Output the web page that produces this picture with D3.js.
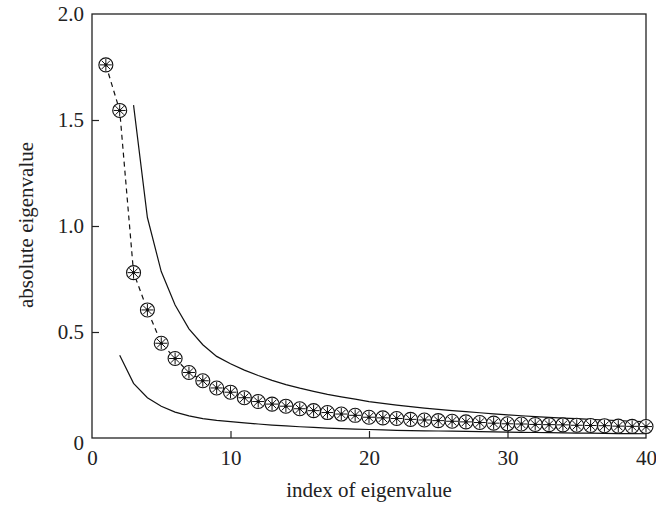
<!DOCTYPE html>
<html>
<head>
<meta charset="utf-8">
<script src="https://cdn.jsdelivr.net/npm/d3@7"></script>
<style>
  body { margin: 0; background: #fff; }
  text { font-family: "Liberation Serif", "DejaVu Serif", serif; fill: #222; }
</style>
</head>
<body>
<div id="wrapper"></div>
<script>
// ---------- DATA -----------------------------------------------
// eigenvalue markers, index 1..40
const eigIndex = d3.range(1, 41);
const eigValues = [
  1.76, 1.545, 0.78, 0.604, 0.447, 0.375, 0.309, 0.27, 0.236, 0.216,
  0.19, 0.172, 0.16, 0.15, 0.138, 0.129, 0.12, 0.113, 0.107, 0.098,
  0.095, 0.092, 0.088, 0.085, 0.082, 0.079, 0.076, 0.073, 0.070, 0.067,
  0.066, 0.064, 0.063, 0.062, 0.060, 0.059, 0.058, 0.056, 0.055, 0.054
];
// upper bound curve, index 3..40
const upperIndex = d3.range(3, 41);
const upperValues = [
  1.57, 1.04, 0.785, 0.627, 0.515, 0.44, 0.385, 0.35, 0.32, 0.295,
  0.272, 0.252, 0.235, 0.22, 0.206, 0.194, 0.183, 0.172, 0.163, 0.155,
  0.148, 0.141, 0.135, 0.129, 0.124, 0.119, 0.114, 0.109, 0.105, 0.101,
  0.097, 0.094, 0.091, 0.088, 0.085, 0.082, 0.079, 0.077
];
// lower bound curve, index 2..40
const lowerIndex = d3.range(2, 41);
const lowerValues = [
  0.39, 0.258, 0.19, 0.15, 0.122, 0.104, 0.091, 0.083, 0.077, 0.071,
  0.066, 0.061, 0.057, 0.053, 0.05, 0.047, 0.044, 0.042, 0.04, 0.038,
  0.036, 0.035, 0.034, 0.033, 0.032, 0.031, 0.03, 0.029, 0.028, 0.027,
  0.026, 0.025, 0.024, 0.023, 0.023, 0.022, 0.021, 0.021, 0.02
];
const xTicks = [0, 10, 20, 30, 40];
const yTicks = [0, 0.5, 1.0, 1.5, 2.0];
const yTickLabels = ["0", "0.5", "1.0", "1.5", "2.0"];

// ---------- DIMENSIONS -----------------------------------------
const dimensions = {
  width: 656,
  height: 506,
  margin: { top: 14, right: 10, bottom: 68, left: 92 },
};
dimensions.boundedWidth = dimensions.width - dimensions.margin.left - dimensions.margin.right;
dimensions.boundedHeight = dimensions.height - dimensions.margin.top - dimensions.margin.bottom;

const svg = d3.select("#wrapper").append("svg")
  .attr("width", dimensions.width)
  .attr("height", dimensions.height);

const bounds = svg.append("g")
  .attr("transform", `translate(${dimensions.margin.left},${dimensions.margin.top})`);

// ---------- SCALES ---------------------------------------------
const xScale = d3.scaleLinear().domain([0, 40]).range([0, dimensions.boundedWidth]);
const yScale = d3.scaleLinear().domain([0, 2]).range([dimensions.boundedHeight, 0]);

// ---------- FRAME + AXES ---------------------------------------
bounds.append("rect")
  .attr("width", dimensions.boundedWidth)
  .attr("height", dimensions.boundedHeight)
  .attr("fill", "none")
  .attr("stroke", "#222")
  .attr("stroke-width", 1.3);

const xAxis = bounds.append("g")
  .attr("transform", `translate(0,${dimensions.boundedHeight})`)
  .call(d3.axisBottom(xScale).tickValues(xTicks).tickSizeInner(-7).tickSizeOuter(0).tickPadding(12));
const yAxis = bounds.append("g")
  .call(d3.axisLeft(yScale).tickValues(yTicks).tickFormat((d, i) => yTickLabels[i])
    .tickSizeInner(-7).tickSizeOuter(0).tickPadding(8));

[xAxis, yAxis].forEach(ax => {
  ax.select(".domain").remove();
  ax.selectAll(".tick line").attr("stroke", "#222").attr("stroke-width", 1.2);
  ax.selectAll(".tick text")
    .attr("font-family", "Liberation Serif, serif")
    .attr("font-size", 21)
    .attr("fill", "#222");
});
// hide ticks sitting on the frame
xAxis.selectAll(".tick").filter(d => d === 0 || d === 40).select("line").remove();
yAxis.selectAll(".tick").filter(d => d === 0 || d === 2).select("line").remove();
// the zero labels sit low / to the left like the original
yAxis.selectAll(".tick").filter(d => d === 0).select("text").attr("dy", "0.55em");

// axis labels
svg.append("text")
  .attr("x", dimensions.margin.left + xScale(20))
  .attr("y", 497)
  .attr("text-anchor", "middle")
  .attr("font-size", 21)
  .text("index of eigenvalue");
svg.append("text")
  .attr("transform", `translate(33,225) rotate(-90)`)
  .attr("text-anchor", "middle")
  .attr("font-size", 21)
  .text("absolute eigenvalue");

// ---------- CURVES ---------------------------------------------
const lineGen = d3.line().x(d => xScale(d[0])).y(d => yScale(d[1]));

bounds.append("path")
  .datum(d3.zip(upperIndex, upperValues))
  .attr("d", lineGen)
  .attr("fill", "none")
  .attr("stroke", "#111")
  .attr("stroke-width", 1.2);

bounds.append("path")
  .datum(d3.zip(lowerIndex, lowerValues))
  .attr("d", lineGen)
  .attr("fill", "none")
  .attr("stroke", "#111")
  .attr("stroke-width", 1.2);

bounds.append("path")
  .datum(d3.zip(eigIndex, eigValues))
  .attr("d", lineGen)
  .attr("fill", "none")
  .attr("stroke", "#111")
  .attr("stroke-width", 1.2)
  .attr("stroke-dasharray", "5,4");

// ---------- MARKERS (circle + asterisk) ------------------------
const r = 7;
const markers = bounds.append("g").selectAll("g")
  .data(d3.zip(eigIndex, eigValues))
  .join("g")
  .attr("transform", d => `translate(${xScale(d[0])},${yScale(d[1])})`);

markers.append("circle")
  .attr("r", r)
  .attr("fill", "#fff")
  .attr("stroke", "#111")
  .attr("stroke-width", 1.1);

const spokes = d3.range(4).map(i => i * Math.PI / 4);
markers.selectAll("line")
  .data(spokes)
  .join("line")
  .attr("x1", a => Math.cos(a) * (r - 1))
  .attr("y1", a => Math.sin(a) * (r - 1))
  .attr("x2", a => -Math.cos(a) * (r - 1))
  .attr("y2", a => -Math.sin(a) * (r - 1))
  .attr("stroke", "#111")
  .attr("stroke-width", 1);

markers.append("circle")
  .attr("r", 1.6)
  .attr("fill", "#111");
</script>
</body>
</html>
